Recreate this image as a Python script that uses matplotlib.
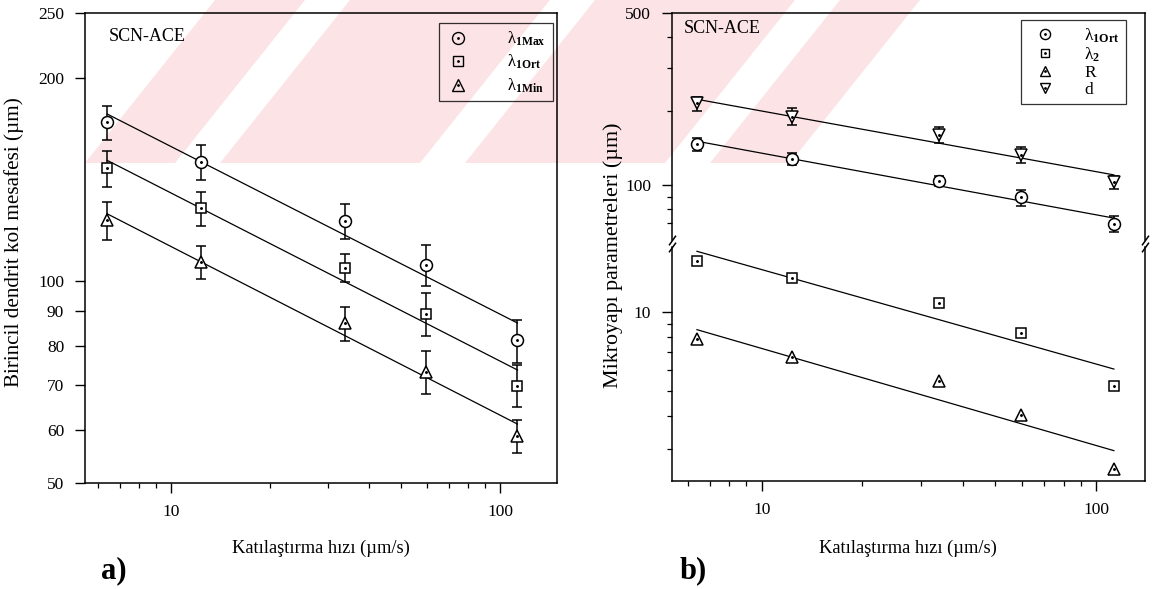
import numpy as np
import matplotlib
matplotlib.use("Agg")
import matplotlib.pyplot as plt
from matplotlib.lines import Line2D
from matplotlib.patches import Polygon
from matplotlib.legend_handler import HandlerTuple
from matplotlib.ticker import FixedLocator, FuncFormatter, NullFormatter

plt.rcParams.update({
    "font.family": ["Liberation Serif", "DejaVu Serif"],
    "mathtext.fontset": "custom",
    "mathtext.rm": "Liberation Serif",
    "mathtext.it": "Liberation Serif:italic",
    "mathtext.bf": "Liberation Serif:bold",
    "font.size": 12.5,
    "axes.linewidth": 1.1,
    "xtick.direction": "out",
    "ytick.direction": "out",
    "xtick.major.size": 7,
    "ytick.major.size": 7,
    "xtick.minor.size": 3.5,
    "ytick.minor.size": 3.5,
    "xtick.major.width": 1.0,
    "ytick.major.width": 1.0,
    "xtick.minor.width": 0.9,
    "ytick.minor.width": 0.9,
    "xtick.major.pad": 8,
    "ytick.major.pad": 8,
})

# Solidification velocity (µm/s)
velocity = [6.4, 12.3, 33.9, 59.6, 113]

# Primary dendrite arm spacings (µm) with standard deviations
lam1_max = [172, 150, 122.7, 105.5, 81.5]
lam1_max_err = [10, 9, 7.5, 7.5, 6]
lam1_ort = [147, 128, 104.4, 89.3, 69.8]
lam1_ort_err = [9, 7.5, 5, 6.5, 5]
lam1_min = [123, 106.6, 86.4, 73.2, 58.8]
lam1_min_err = [8, 6, 5, 5.5, 3.3]

# Other microstructure parameters (µm)
d_diam = [215, 190, 160, 133, 103]
d_diam_err = [14, 15, 12, 10, 6]
lam2 = [15.7, 13.5, 10.8, 8.3, 5.2]
tip_r = [7.85, 6.7, 5.45, 4.05, 2.52]

left_yticks = [50, 60, 70, 80, 90, 100, 200, 250]
x_major = [10, 100]
x_minor = [6, 7, 8, 9, 20, 30, 40, 50, 60, 70, 80, 90]

MARKERS = {"circle": ("o", 8.6), "square": ("s", 7.6), "up": ("^", 8.4), "down": ("v", 8.4)}

W, H = 1161.0, 589.0
fig = plt.figure(figsize=(W / 100, H / 100), dpi=100)


def fig_xy(pts):
    return [(x / W, 1 - y / H) for x, y in pts]


# faint page stamp behind the plots: pale diagonal bands across the top
stamp_color = "#fce3e6"
band_dx = 130.0
for x_lo, x_hi in [(85, 175), (220, 420), (465, 665), (710, 790)]:
    pts = [(x_lo, 163), (x_hi, 163), (x_hi + band_dx, 0), (x_lo + band_dx, 0)]
    fig.add_artist(Polygon(fig_xy(pts), closed=True, transform=fig.transFigure,
                           facecolor=stamp_color, edgecolor="none", zorder=-5))


def power_fit(x, y):
    x = np.asarray(x, float)
    y = np.asarray(y, float)
    slope, icpt = np.polyfit(np.log10(x), np.log10(y), 1)
    xs = np.array([x[0], x[-1]])
    return xs, 10 ** (icpt + slope * np.log10(xs))


def draw_series(ax, x, y, err, kind):
    m, ms = MARKERS[kind]
    fx, fy = power_fit(x, y)
    ax.plot(fx, fy, color="k", lw=0.9, zorder=2)
    if err is not None:
        ax.errorbar(x, y, yerr=err, fmt="none", ecolor="k", elinewidth=1.1,
                    capsize=3.3, capthick=1.1, zorder=3)
    ax.plot(x, y, ls="none", marker=m, ms=ms, mfc="white", mec="k", mew=1.1, zorder=4)
    ax.plot(x, y, ls="none", marker=".", ms=2.2, color="k", zorder=5)


def legend_handle(kind, scale=1.0):
    m, ms = MARKERS[kind]
    return (Line2D([], [], ls="none", marker=m, ms=ms * scale, mfc="none", mec="k", mew=1.0),
            Line2D([], [], ls="none", marker=".", ms=2.0, color="k"))


def style_xaxis(ax, lo, hi):
    ax.set_xscale("log")
    ax.set_xlim(lo, hi)
    ax.xaxis.set_major_locator(FixedLocator(x_major))
    ax.xaxis.set_minor_locator(FixedLocator(x_minor))
    ax.xaxis.set_major_formatter(FuncFormatter(lambda v, p: f"{v:g}"))
    ax.xaxis.set_minor_formatter(NullFormatter())


def px_axes(x0, y0, x1, y1):
    ax = fig.add_axes([x0 / W, 1 - y1 / H, (x1 - x0) / W, (y1 - y0) / H])
    ax.set_facecolor("none")
    return ax


# ---------------- panel a ----------------
ax_a = px_axes(85, 13, 557, 483)
ax_a.set_yscale("log")
ax_a.set_ylim(50, 250)
style_xaxis(ax_a, 5.48, 149)
ax_a.yaxis.set_major_locator(FixedLocator(left_yticks))
ax_a.yaxis.set_major_formatter(FuncFormatter(lambda v, p: f"{v:g}"))
ax_a.yaxis.set_minor_locator(FixedLocator([]))

draw_series(ax_a, velocity, lam1_max, lam1_max_err, "circle")
draw_series(ax_a, velocity, lam1_ort, lam1_ort_err, "square")
draw_series(ax_a, velocity, lam1_min, lam1_min_err, "up")

ax_a.text(0.051, 0.949, "SCN-ACE", transform=ax_a.transAxes, ha="left", va="center", fontsize=13)

leg_a = ax_a.legend(
    [legend_handle("circle"), legend_handle("square"), legend_handle("up")],
    ["λ$_{\\mathbf{1Max}}$", "λ$_{\\mathbf{1Ort}}$", "λ$_{\\mathbf{1Min}}$"],
    handler_map={tuple: HandlerTuple(ndivide=1, pad=0)},
    loc="upper left", bbox_to_anchor=(0.751, 0.979), borderaxespad=0,
    frameon=True, fancybox=False, edgecolor="k", facecolor="none", framealpha=None,
    handlelength=1.38, handletextpad=2.3, labelspacing=0.3, borderpad=0.4,
    fontsize=12,
)
leg_a.get_frame().set_linewidth(0.9)

# ---------------- panel b (broken axis) ----------------
ax_u = px_axes(672, 13, 1145, 240)
ax_l = px_axes(672, 247, 1145, 481)

for ax in (ax_u, ax_l):
    ax.set_yscale("log")
    style_xaxis(ax, 5.39, 140)

ax_u.set_ylim(60, 500)
ax_u.yaxis.set_major_locator(FixedLocator([100, 500]))
ax_u.yaxis.set_minor_locator(FixedLocator([70, 80, 90, 200, 300, 400]))
ax_u.yaxis.set_major_formatter(FuncFormatter(lambda v, p: f"{v:g}"))
ax_u.yaxis.set_minor_formatter(NullFormatter())
ax_u.spines["bottom"].set_visible(False)
ax_u.tick_params(axis="x", which="both", bottom=False, labelbottom=False)

ax_l.set_ylim(2.26, 17.7)
ax_l.yaxis.set_major_locator(FixedLocator([10]))
ax_l.yaxis.set_minor_locator(FixedLocator([3, 4, 5, 6, 7, 8, 9]))
ax_l.yaxis.set_major_formatter(FuncFormatter(lambda v, p: f"{v:g}"))
ax_l.yaxis.set_minor_formatter(NullFormatter())
ax_l.spines["top"].set_visible(False)

draw_series(ax_u, velocity, d_diam, d_diam_err, "down")
draw_series(ax_u, velocity, lam1_ort, lam1_ort_err, "circle")
draw_series(ax_l, velocity, lam2, None, "square")
draw_series(ax_l, velocity, tip_r, None, "up")

# break marks on both spines
brk = dict(marker=[(-1, -1.4), (1, 1.4)], markersize=7, linestyle="none",
           color="k", mec="k", mew=1.1, clip_on=False)
ax_u.plot([0, 1], [0, 0], transform=ax_u.transAxes, **brk)
ax_l.plot([0, 1], [1, 1], transform=ax_l.transAxes, **brk)

ax_u.text(0.0245, 0.93, "SCN-ACE", transform=ax_u.transAxes, ha="left", va="center", fontsize=13)

leg_b = ax_u.legend(
    [legend_handle("circle", 0.85), legend_handle("square", 0.85),
     legend_handle("up", 0.85), legend_handle("down", 0.85)],
    ["λ$_{\\mathbf{1Ort}}$", "λ$_{\\mathbf{2}}$", "R", "d"],
    handler_map={tuple: HandlerTuple(ndivide=1, pad=0)},
    loc="upper left", bbox_to_anchor=(0.738, 0.969), borderaxespad=0,
    frameon=True, fancybox=False, edgecolor="k", facecolor="none", framealpha=None,
    handlelength=2.0, handletextpad=1.3, labelspacing=0.05, borderpad=0.35,
    fontsize=12.5,
)
leg_b.get_frame().set_linewidth(0.9)

# ---------------- labels ----------------
fig.text(14.5 / W, 1 - 242 / H, "Birincil dendrit kol mesafesi (µm)", rotation=90,
         ha="center", va="center", fontsize=15.2)
fig.text(613 / W, 1 - 255 / H, "Mikroyapı parametreleri (µm)", rotation=90,
         ha="center", va="center", fontsize=15.8)
fig.text(321 / W, 1 - 548 / H, "Katılaştırma hızı (µm/s)", ha="center", va="center", fontsize=13.3)
fig.text(908 / W, 1 - 548 / H, "Katılaştırma hızı (µm/s)", ha="center", va="center", fontsize=13.3)
fig.text(114 / W, 1 - 571 / H, "a)", ha="center", va="center", fontsize=22, fontweight="bold")
fig.text(693 / W, 1 - 571 / H, "b)", ha="center", va="center", fontsize=22, fontweight="bold")

fig.savefig("out.png", dpi=100)
